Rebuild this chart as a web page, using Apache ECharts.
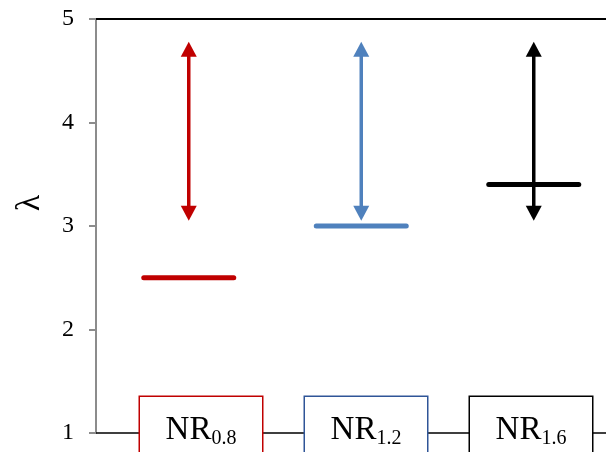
<!DOCTYPE html>
<html>
<head>
<meta charset="utf-8">
<script src="https://cdn.jsdelivr.net/npm/echarts@6/dist/echarts.min.js"></script>
<style>html,body{margin:0;padding:0;background:#fff}#c{width:606px;height:452px}</style>
</head>
<body>
<div id="c"></div>
<script>
// ---- data ----
const categoryBase = 'NR';
const categorySubs = ['0.8', '1.2', '1.6'];
const lambdaValues = [2.5, 3.0, 3.4];      // horizontal bars
const arrowLow = [3.05, 3.05, 3.05];        // lower arrow tips
const arrowHigh = [4.78, 4.78, 4.78];       // upper arrow tips
const yTicks = [1, 2, 3, 4, 5];

const markColors = ['#C00000', '#4F81BD', '#000000'];
const boxColors = ['#C00000', '#2F5597', '#000000'];
const SERIF = '"Liberation Serif", "Times New Roman", serif';

const chart = echarts.init(document.getElementById('c'), null, {renderer: 'canvas'});

const option = {
  animation: false,
  backgroundColor: '#fff',
  grid: [
    {left: 96, right: 0, top: 19, bottom: 19, outerBoundsMode: 'none', containLabel: false},
    {left: 102.5, width: 517.5, top: 19, bottom: 19, outerBoundsMode: 'none', containLabel: false},
    {left: 118.5, width: 495, top: 19, bottom: 19, outerBoundsMode: 'none', containLabel: false}
  ],
  xAxis: [
    {gridIndex: 0, type: 'value', min: 0, max: 1, position: 'bottom',
     axisLine: {show: true, onZero: false, lineStyle: {color: '#000', width: 1.5}},
     axisTick: {show: false}, axisLabel: {show: false}, splitLine: {show: false}},
    {gridIndex: 0, type: 'value', min: 0, max: 1, position: 'top',
     axisLine: {show: true, onZero: false, lineStyle: {color: '#000', width: 2}},
     axisTick: {show: false}, axisLabel: {show: false}, splitLine: {show: false}},
    {gridIndex: 1, type: 'category', data: categorySubs.map(s => categoryBase + s), show: false},
    {gridIndex: 2, type: 'category', z: 10, position: 'bottom',
     data: categorySubs.map((s, i) => ({value: categoryBase + s, textStyle: {borderColor: boxColors[i]}})),
     axisLine: {show: false}, axisTick: {show: false}, splitLine: {show: false},
     axisLabel: {
       show: true, interval: 0, margin: -36,
       formatter: (v, i) => '{n|' + categoryBase + '}{s|' + categorySubs[i] + '}',
       backgroundColor: '#fff', borderWidth: 1.5, width: 122,
       padding: [17, 0, 30, 0], align: 'center',
       rich: {
         n: {fontFamily: SERIF, fontSize: 33, lineHeight: 32, color: '#000'},
         s: {fontFamily: SERIF, fontSize: 20, lineHeight: 20, padding: [17, 0, 0, 0], color: '#000'}
       }
     }}
  ],
  yAxis: [
    {gridIndex: 0, type: 'value', min: yTicks[0], max: yTicks[yTicks.length - 1], interval: 1,
     name: 'λ', nameLocation: 'middle', nameRotate: 90, nameGap: 49,
     nameTextStyle: {fontFamily: SERIF, fontSize: 34, color: '#000', padding: [0, 0, 0, 46]},
     axisLine: {show: true, onZero: false, lineStyle: {color: '#8C8C8C', width: 2}},
     axisTick: {show: true, inside: false, length: 7, lineStyle: {color: '#8C8C8C', width: 2}},
     axisLabel: {fontFamily: SERIF, fontSize: 24, color: '#000', margin: 22},
     splitLine: {show: false}},
    {gridIndex: 1, type: 'value', min: 1, max: 5, show: false},
    {gridIndex: 2, type: 'value', min: 1, max: 5, show: false}
  ],
  series: [
    {
      type: 'custom', xAxisIndex: 2, yAxisIndex: 1, z: 3,
      data: categorySubs.map((s, i) => [i, arrowLow[i], arrowHigh[i]]),
      renderItem: function (params, api) {
        const lo = api.coord([api.value(0), api.value(1)]);
        const hi = api.coord([api.value(0), api.value(2)]);
        const x = lo[0];
        const c = markColors[params.dataIndex];
        const hw = 8, hh = 15;
        return {type: 'group', children: [
          {type: 'line', shape: {x1: x, y1: hi[1] + hh - 1, x2: x, y2: lo[1] - hh + 1},
           style: {stroke: c, lineWidth: 3.5}},
          {type: 'polygon', shape: {points: [[x, hi[1]], [x - hw, hi[1] + hh], [x + hw, hi[1] + hh]]},
           style: {fill: c}},
          {type: 'polygon', shape: {points: [[x, lo[1]], [x - hw, lo[1] - hh], [x + hw, lo[1] - hh]]},
           style: {fill: c}}
        ]};
      }
    },
    {
      type: 'custom', xAxisIndex: 2, yAxisIndex: 1, z: 4,
      data: categorySubs.map((s, i) => [i, lambdaValues[i]]),
      renderItem: function (params, api) {
        const p = api.coord([api.value(0), api.value(1)]);
        const c = markColors[params.dataIndex];
        return {type: 'line', shape: {x1: p[0] - 45, y1: p[1], x2: p[0] + 45, y2: p[1]},
                style: {stroke: c, lineWidth: 5, lineCap: 'round'}};
      }
    }
  ]
};
chart.setOption(option);
</script>
</body>
</html>
